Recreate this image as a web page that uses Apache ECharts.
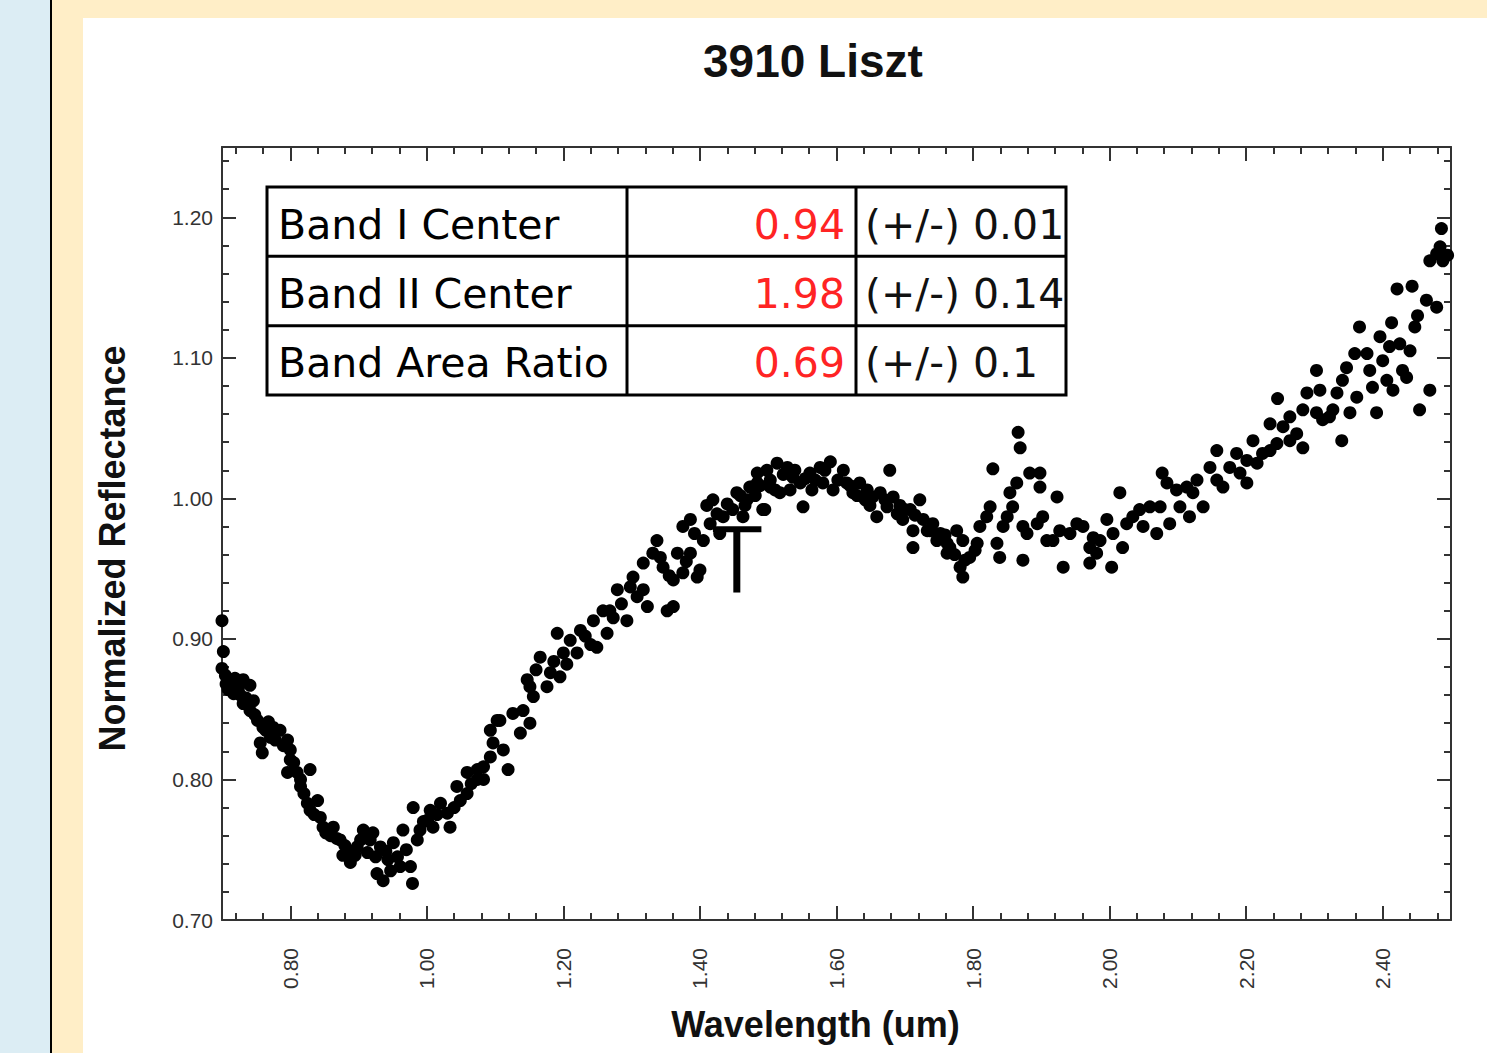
<!DOCTYPE html>
<html>
<head>
<meta charset="utf-8">
<script src="https://cdn.jsdelivr.net/npm/echarts@6/dist/echarts.min.js"></script>
<style>
html,body{margin:0;padding:0;width:1487px;height:1053px;overflow:hidden;background:#ffeec7;}
#blue{position:absolute;left:0;top:0;width:50px;height:1053px;background:#dcedf4;}
#rule{position:absolute;left:50px;top:0;width:2px;height:1053px;background:#000;}
#chart{position:absolute;left:83px;top:18px;width:1404px;height:1035px;background:#fff;}
</style>
</head>
<body>
<div id="blue"></div><div id="rule"></div><div id="chart"></div>
<script>
// ---- data (wavelength in um, normalized reflectance) ----
const bandISegment = [[0.700,0.913],[0.702,0.891],[0.700,0.879],[0.705,0.874],[0.706,0.868],[0.709,0.864],[0.712,0.871],[0.714,0.866],[0.717,0.861],[0.719,0.872],[0.722,0.869],[0.724,0.865],[0.727,0.860],[0.731,0.871],[0.731,0.854],[0.735,0.858],[0.741,0.867],[0.741,0.849],[0.746,0.856],[0.748,0.846],[0.752,0.842],[0.756,0.826],[0.759,0.819],[0.760,0.837],[0.764,0.835],[0.768,0.841],[0.771,0.830],[0.775,0.837],[0.778,0.828],[0.785,0.835],[0.790,0.824],[0.796,0.828],[0.800,0.821],[0.800,0.814],[0.796,0.805],[0.805,0.812],[0.810,0.805],[0.815,0.800],[0.815,0.795],[0.820,0.790],[0.829,0.807],[0.825,0.783],[0.840,0.785],[0.829,0.778],[0.835,0.775],[0.844,0.773],[0.848,0.766],[0.852,0.762],[0.859,0.760],[0.863,0.766],[0.868,0.758],[0.873,0.757],[0.877,0.746],[0.880,0.753],[0.883,0.748],[0.888,0.741],[0.895,0.746],[0.898,0.752],[0.903,0.757],[0.907,0.764],[0.913,0.748],[0.917,0.757],[0.921,0.762],[0.925,0.745],[0.932,0.752],[0.927,0.733],[0.936,0.728],[0.940,0.749],[0.943,0.743],[0.947,0.735],[0.951,0.755],[0.957,0.745],[0.961,0.738],[0.965,0.764],[0.970,0.750],[0.976,0.738],[0.979,0.726],[0.980,0.780],[0.986,0.757],[0.990,0.764],[0.995,0.770],[1.001,0.771],[1.005,0.778],[1.009,0.766],[1.015,0.775],[1.020,0.783],[1.030,0.776],[1.034,0.766],[1.040,0.780],[1.044,0.795],[1.049,0.785],[1.059,0.805],[1.059,0.790],[1.065,0.797],[1.074,0.800],[1.074,0.807],[1.083,0.809],[1.083,0.800],[1.093,0.835],[1.093,0.816],[1.097,0.826]];
const riseSegment = [[1.103,0.842],[1.107,0.842],[1.112,0.821],[1.119,0.807],[1.126,0.847],[1.137,0.833],[1.141,0.849],[1.151,0.840],[1.151,0.866],[1.147,0.871],[1.156,0.859],[1.160,0.878],[1.166,0.887],[1.176,0.866],[1.181,0.876],[1.186,0.884],[1.191,0.904],[1.195,0.873],[1.200,0.890],[1.205,0.882],[1.210,0.899],[1.220,0.890],[1.225,0.906],[1.232,0.902],[1.240,0.896],[1.244,0.913],[1.249,0.894],[1.258,0.920],[1.264,0.904],[1.268,0.920],[1.273,0.915],[1.279,0.935],[1.285,0.925],[1.293,0.913],[1.298,0.937],[1.302,0.944],[1.308,0.930],[1.317,0.935],[1.323,0.923],[1.317,0.954],[1.331,0.961],[1.337,0.970],[1.342,0.958],[1.346,0.951],[1.352,0.920],[1.355,0.945],[1.361,0.923],[1.361,0.942],[1.367,0.961],[1.375,0.947],[1.375,0.980],[1.380,0.955],[1.386,0.985],[1.386,0.961],[1.392,0.975],[1.396,0.944],[1.400,0.949],[1.405,0.970],[1.410,0.995],[1.415,0.982],[1.419,0.999],[1.425,0.989],[1.429,0.975],[1.434,0.987],[1.440,0.996],[1.448,0.992],[1.454,1.004],[1.459,1.002],[1.463,0.987],[1.466,0.995],[1.469,0.999],[1.473,1.008],[1.476,1.008],[1.481,1.002],[1.484,1.018],[1.484,1.011],[1.488,1.009],[1.492,0.992],[1.495,0.992],[1.498,1.020]];
const bandIISegment = [[1.503,1.013],[1.503,1.008],[1.510,1.006],[1.513,1.025],[1.517,1.004],[1.522,1.017],[1.528,1.022],[1.532,1.006],[1.536,1.015],[1.539,1.020],[1.547,1.011],[1.551,0.994],[1.554,1.014],[1.561,1.018],[1.564,1.006],[1.569,1.013],[1.576,1.022],[1.580,1.011],[1.583,1.020],[1.591,1.026],[1.595,1.006],[1.602,1.013],[1.610,1.020],[1.615,1.011],[1.620,1.009],[1.624,1.004],[1.630,1.002],[1.634,1.011],[1.642,0.999],[1.645,1.006],[1.649,0.995],[1.653,1.001],[1.659,0.987],[1.664,1.004],[1.671,0.999],[1.674,0.994],[1.678,1.020],[1.683,1.001],[1.689,0.989],[1.693,0.995],[1.697,0.985],[1.700,0.992],[1.708,0.992],[1.712,0.977],[1.712,0.965],[1.715,0.988],[1.722,0.999],[1.727,0.985],[1.733,0.977],[1.737,0.977],[1.741,0.982],[1.747,0.970],[1.752,0.975],[1.759,0.974],[1.762,0.968],[1.762,0.961],[1.766,0.965],[1.773,0.960],[1.776,0.977],[1.781,0.951],[1.785,0.970],[1.785,0.944],[1.788,0.956],[1.795,0.958],[1.803,0.963],[1.806,0.968],[1.810,0.980],[1.820,0.987],[1.825,0.994],[1.829,1.021],[1.835,0.968],[1.839,0.958],[1.844,0.980],[1.850,0.987],[1.854,1.004],[1.858,0.994],[1.864,1.011],[1.866,1.047],[1.869,1.036],[1.873,0.980],[1.873,0.956],[1.879,0.975],[1.883,1.018],[1.894,0.982],[1.898,1.018],[1.898,1.008],[1.902,0.987],[1.908,0.970],[1.917,0.970],[1.923,1.001],[1.927,0.977],[1.932,0.951],[1.942,0.975],[1.952,0.982],[1.961,0.980],[1.971,0.965],[1.971,0.954],[1.976,0.972],[1.981,0.961],[1.986,0.970],[1.996,0.985]];
const redSlopeSegment = [[2.003,0.951],[2.005,0.975],[2.015,1.004],[2.019,0.965],[2.025,0.982],[2.034,0.987],[2.044,0.992],[2.049,0.980],[2.059,0.994],[2.069,0.975],[2.074,0.994],[2.077,1.018],[2.084,1.011],[2.088,0.982],[2.098,1.006],[2.103,0.994],[2.113,1.008],[2.117,0.987],[2.122,1.004],[2.128,1.013],[2.137,0.994],[2.147,1.022],[2.157,1.034],[2.157,1.013],[2.166,1.008],[2.176,1.022],[2.186,1.032],[2.191,1.018],[2.201,1.011],[2.201,1.027],[2.210,1.041],[2.216,1.025],[2.224,1.032],[2.235,1.053],[2.235,1.034],[2.245,1.039],[2.246,1.071],[2.254,1.051],[2.264,1.058],[2.264,1.041],[2.274,1.046],[2.283,1.036],[2.283,1.063],[2.289,1.075],[2.303,1.091],[2.303,1.061],[2.308,1.077],[2.312,1.056],[2.322,1.058],[2.327,1.063],[2.333,1.075],[2.340,1.041],[2.341,1.084],[2.347,1.093],[2.352,1.061],[2.359,1.103],[2.362,1.072],[2.366,1.122],[2.377,1.103],[2.381,1.091],[2.385,1.079],[2.391,1.061],[2.396,1.115],[2.400,1.098],[2.406,1.084],[2.410,1.108],[2.413,1.125],[2.415,1.077],[2.421,1.149],[2.425,1.110],[2.429,1.091],[2.435,1.086],[2.440,1.105],[2.443,1.151],[2.447,1.122],[2.451,1.130],[2.454,1.063],[2.464,1.141],[2.469,1.077],[2.469,1.169],[2.479,1.136],[2.479,1.174],[2.484,1.179],[2.486,1.192],[2.488,1.169],[2.495,1.173]];

// marker (wavelength, reflectance range)
const markerWavelength = 1.454;
const markerBarFrom = 1.419, markerBarTo = 1.490;
const markerBottom = 0.933, markerTop = 0.978;

// axis ticks
const xTickLabels = [0.80,1.00,1.20,1.40,1.60,1.80,2.00,2.20,2.40];
const xMinorTicks = [0.72,0.76,0.84,0.88,0.92,0.96,1.04,1.08,1.12,1.16,1.24,1.28,1.32,1.36,1.44,1.48,1.52,1.56,1.64,1.68,1.72,1.76,1.84,1.88,1.92,1.96,2.04,2.08,2.12,2.16,2.24,2.28,2.32,2.36,2.44,2.48];
const yTickLabels = [0.70,0.80,0.90,1.00,1.10,1.20];
const yMinorTicks = [0.72,0.74,0.76,0.78,0.82,0.84,0.86,0.88,0.92,0.94,0.96,0.98,1.02,1.04,1.06,1.08,1.12,1.14,1.16,1.18,1.22,1.24];

// table
const tableLabels = ['Band I Center','Band II Center','Band Area Ratio'];
const tableValues = ['0.94','1.98','0.69'];
const tableErrors = ['(+/-) 0.01','(+/-) 0.14','(+/-) 0.1'];

// ---- chart ----
const spectrum = bandISegment.concat(riseSegment, bandIISegment, redSlopeSegment);
const AX = '#333';
const tickFont = 'Liberation Sans, Arial, sans-serif';
const fmt = v => Number(v).toFixed(2);

function xAxisDef(pos, ticks, len, line, label) {
  return {
    type: 'value', min: 0.70, max: 2.50, position: pos,
    splitLine: {show: false},
    axisLine: {show: line, onZero: false, lineStyle: {color: AX, width: 2}},
    axisTick: {show: true, inside: true, length: len, customValues: ticks, lineStyle: {color: AX, width: 2}},
    axisLabel: label ? {show: true, customValues: ticks, rotate: 90, margin: 28, formatter: fmt,
      fontFamily: tickFont, fontSize: 21, color: '#333'} : {show: false}
  };
}
function yAxisDef(pos, ticks, len, line, label) {
  return {
    type: 'value', min: 0.70, max: 1.25, position: pos,
    splitLine: {show: false},
    axisLine: {show: line, onZero: false, lineStyle: {color: AX, width: 2}},
    axisTick: {show: true, inside: true, length: len, customValues: ticks, lineStyle: {color: AX, width: 2}},
    axisLabel: label ? {show: true, customValues: ticks, margin: 9, formatter: fmt,
      fontFamily: tickFont, fontSize: 21, color: '#333'} : {show: false}
  };
}

const xAxes = [
  xAxisDef('bottom', xTickLabels, 14, true, true),
  xAxisDef('bottom', xMinorTicks, 7, false, false),
  xAxisDef('top', xTickLabels, 14, true, false),
  xAxisDef('top', xMinorTicks, 7, false, false)
];
Object.assign(xAxes[0], {
  name: 'Wavelength (um)', nameLocation: 'middle', nameGap: 86,
  nameTextStyle: {fontFamily: 'Liberation Sans, Arial, sans-serif', fontWeight: 'bold', fontSize: 36, color: '#111', padding: [0, 42, 0, 0]}
});
const yAxes = [
  yAxisDef('left', yTickLabels, 14, true, true),
  yAxisDef('left', yMinorTicks, 7, false, false),
  yAxisDef('right', yTickLabels, 14, true, false),
  yAxisDef('right', yMinorTicks, 7, false, false)
];
Object.assign(yAxes[0], {
  name: 'Normalized Reflectance', nameLocation: 'middle', nameGap: 92,
  nameTextStyle: {fontFamily: 'Liberation Sans, Arial, sans-serif', fontWeight: 'bold', fontSize: 36, color: '#111', padding: [0, 30, 0, 0]}
});

// table graphic (chart-local pixel layout)
const T = {x: 184, y: 169, w: 799, h: 208, c1: 544, c2: 773};
const rowH = T.h / 3;
const tableFont = '"DejaVu Sans", Verdana, sans-serif';
const graphics = [
  {type: 'rect', z: 100, shape: {x: T.x, y: T.y, width: T.w, height: T.h}, style: {fill: '#fff', stroke: '#000', lineWidth: 3}},
  {type: 'line', z: 101, shape: {x1: T.x, y1: T.y + rowH, x2: T.x + T.w, y2: T.y + rowH}, style: {stroke: '#000', lineWidth: 3}},
  {type: 'line', z: 101, shape: {x1: T.x, y1: T.y + 2 * rowH, x2: T.x + T.w, y2: T.y + 2 * rowH}, style: {stroke: '#000', lineWidth: 3}},
  {type: 'line', z: 101, shape: {x1: T.c1, y1: T.y, x2: T.c1, y2: T.y + T.h}, style: {stroke: '#000', lineWidth: 3}},
  {type: 'line', z: 101, shape: {x1: T.c2, y1: T.y, x2: T.c2, y2: T.y + T.h}, style: {stroke: '#000', lineWidth: 3}}
];
tableLabels.forEach((lab, i) => {
  const cy = T.y + rowH * i + rowH / 2 + 3;
  graphics.push({type: 'text', z: 102, x: T.x + 11, y: cy, style: {text: lab, fontFamily: tableFont, fontSize: 41, fill: '#000', align: 'left', verticalAlign: 'middle'}});
  graphics.push({type: 'text', z: 102, x: T.c2 - 11, y: cy, style: {text: tableValues[i], fontFamily: tableFont, fontSize: 41, fill: '#ff2424', align: 'right', verticalAlign: 'middle'}});
  graphics.push({type: 'text', z: 102, x: T.c2 + 9, y: cy, style: {text: tableErrors[i], fontFamily: tableFont, fontSize: 41, fill: '#111', align: 'left', verticalAlign: 'middle'}});
});

const chart = echarts.init(document.getElementById('chart'), null, {renderer: 'svg'});
chart.setOption({
  animation: false,
  backgroundColor: '#fff',
  title: {
    text: '3910 Liszt', left: 620, top: 20, padding: 0,
    textStyle: {fontFamily: 'Liberation Sans, Arial, sans-serif', fontWeight: 'bold', fontSize: 46, color: '#111'}
  },
  grid: {left: 139, top: 129, width: 1229, height: 773, outerBoundsMode: 'none', containLabel: false},
  xAxis: xAxes,
  yAxis: yAxes,
  graphic: graphics,
  series: [
    {type: 'scatter', xAxisIndex: 0, yAxisIndex: 0, data: spectrum, symbol: 'circle', symbolSize: 13,
      itemStyle: {color: '#000', opacity: 1}, silent: true, clip: false},
    {type: 'line', xAxisIndex: 0, yAxisIndex: 0, data: [[markerWavelength, markerBottom], [markerWavelength, markerTop]],
      showSymbol: false, silent: true, lineStyle: {color: '#000', width: 7, cap: 'butt'}},
    {type: 'line', xAxisIndex: 0, yAxisIndex: 0, data: [[markerBarFrom, markerTop], [markerBarTo, markerTop]],
      showSymbol: false, silent: true, lineStyle: {color: '#000', width: 6, cap: 'butt'}}
  ]
});
</script>
</body>
</html>
